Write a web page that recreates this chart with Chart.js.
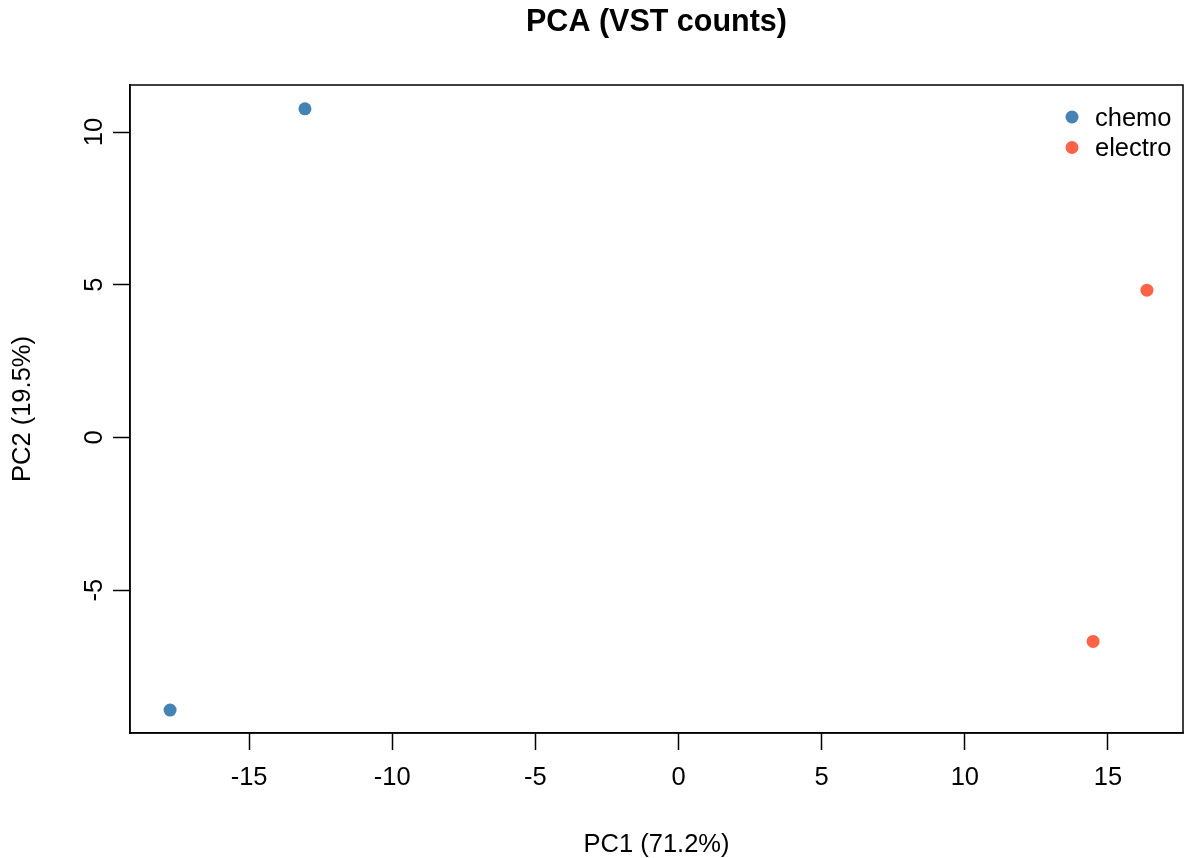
<!DOCTYPE html>
<html>
<head>
<meta charset="utf-8">
<script src="https://cdn.jsdelivr.net/npm/chart.js@4/dist/chart.umd.min.js"></script>
<style>
  html, body { margin: 0; padding: 0; background: #ffffff; }
  #wrap { width: 1185px; height: 858px; }
</style>
</head>
<body>
<div id="wrap"><canvas id="c" width="1185" height="858"></canvas></div>
<script>
// ---- data ----
const chartTitle = "PCA (VST counts)";
const xTitle = "PC1 (71.2%)";
const yTitle = "PC2 (19.5%)";
const groups = ["chemo", "electro"];
const groupColors = ["#4682B4", "#FF6347"];
const chemoX = [-13.05, -17.76];
const chemoY = [10.76, -8.93];
const electroX = [16.36, 14.48];
const electroY = [4.82, -6.68];
const xTicks = [-15, -10, -5, 0, 5, 10, 15];
const yTicks = [-5, 0, 5, 10];
const xRange = [-19.16, 17.62];
const yRange = [-9.68, 11.54];

const FONT = "'Liberation Sans', Arial, Helvetica, sans-serif";
const FS = 25.5;

function pts(xs, ys) { return xs.map((x, i) => ({ x: x, y: ys[i] })); }

const boxPlugin = {
  id: 'boxAndText',
  afterDraw(chart) {
    const { ctx, chartArea: a } = chart;
    ctx.save();
    ctx.strokeStyle = '#000';
    ctx.lineWidth = 1.5;
    ctx.strokeRect(a.left, a.top, a.right - a.left, a.bottom - a.top);
    // title
    ctx.fillStyle = '#000';
    ctx.font = "bold 30.5px " + FONT;
    ctx.textAlign = 'center';
    ctx.textBaseline = 'alphabetic';
    ctx.fillText(chartTitle, (a.left + a.right) / 2, 31);
    // legend
    ctx.font = FS + "px " + FONT;
    ctx.textAlign = 'left';
    ctx.textBaseline = 'alphabetic';
    const ds = chart.data.datasets;
    ds.forEach((d, i) => {
      const cy = 117 + i * 30.5;
      ctx.beginPath();
      ctx.fillStyle = d.backgroundColor;
      ctx.arc(1072, cy, 6.5, 0, Math.PI * 2);
      ctx.fill();
      ctx.fillStyle = '#000';
      ctx.fillText(d.label, 1095, cy + 8.5);
    });
    ctx.restore();
  }
};

new Chart(document.getElementById('c'), {
  type: 'scatter',
  data: {
    datasets: [
      { label: groups[0], data: pts(chemoX, chemoY), backgroundColor: groupColors[0], borderWidth: 0, pointRadius: 6.5, pointHoverRadius: 6.5 },
      { label: groups[1], data: pts(electroX, electroY), backgroundColor: groupColors[1], borderWidth: 0, pointRadius: 6.5, pointHoverRadius: 6.5 }
    ]
  },
  options: {
    responsive: false,
    animation: false,
    events: [],
    layout: { autoPadding: false, padding: { top: 85, right: 2, bottom: 0, left: 0 } },
    plugins: { legend: { display: false }, tooltip: { enabled: false }, title: { display: false } },
    scales: {
      x: {
        type: 'linear',
        min: xRange[0], max: xRange[1],
        afterBuildTicks(s) { s.ticks = xTicks.map(v => ({ value: v })); },
        afterFit(s) { s.height = 125; s.paddingLeft = 0; s.paddingRight = 0; },
        grid: { display: true, drawOnChartArea: false, drawTicks: true, tickLength: 17, color: '#000', tickWidth: 1.5 },
        border: { display: true, color: '#000', width: 1.5 },
        ticks: { color: '#000', font: { family: FONT, size: FS }, padding: 13, maxRotation: 0, autoSkip: false },
        title: { display: true, text: xTitle, color: '#000', font: { family: FONT, size: FS }, padding: { top: 0, bottom: -2 } }
      },
      y: {
        type: 'linear',
        min: yRange[0], max: yRange[1],
        afterBuildTicks(s) { s.ticks = yTicks.map(v => ({ value: v })); },
        afterFit(s) { s.width = 130; s.paddingTop = 0; s.paddingBottom = 0; },
        grid: { display: true, drawOnChartArea: false, drawTicks: true, tickLength: 17, color: '#000', tickWidth: 1.5 },
        border: { display: true, color: '#000', width: 1.5 },
        ticks: { color: '#000', font: { family: FONT, size: FS }, padding: 4, minRotation: 90, maxRotation: 90, crossAlign: 'center', autoSkip: false },
        title: { display: true, text: yTitle, color: '#000', font: { family: FONT, size: FS }, padding: { top: 8, bottom: 0 } }
      }
    }
  },
  plugins: [boxPlugin]
});
</script>
</body>
</html>
